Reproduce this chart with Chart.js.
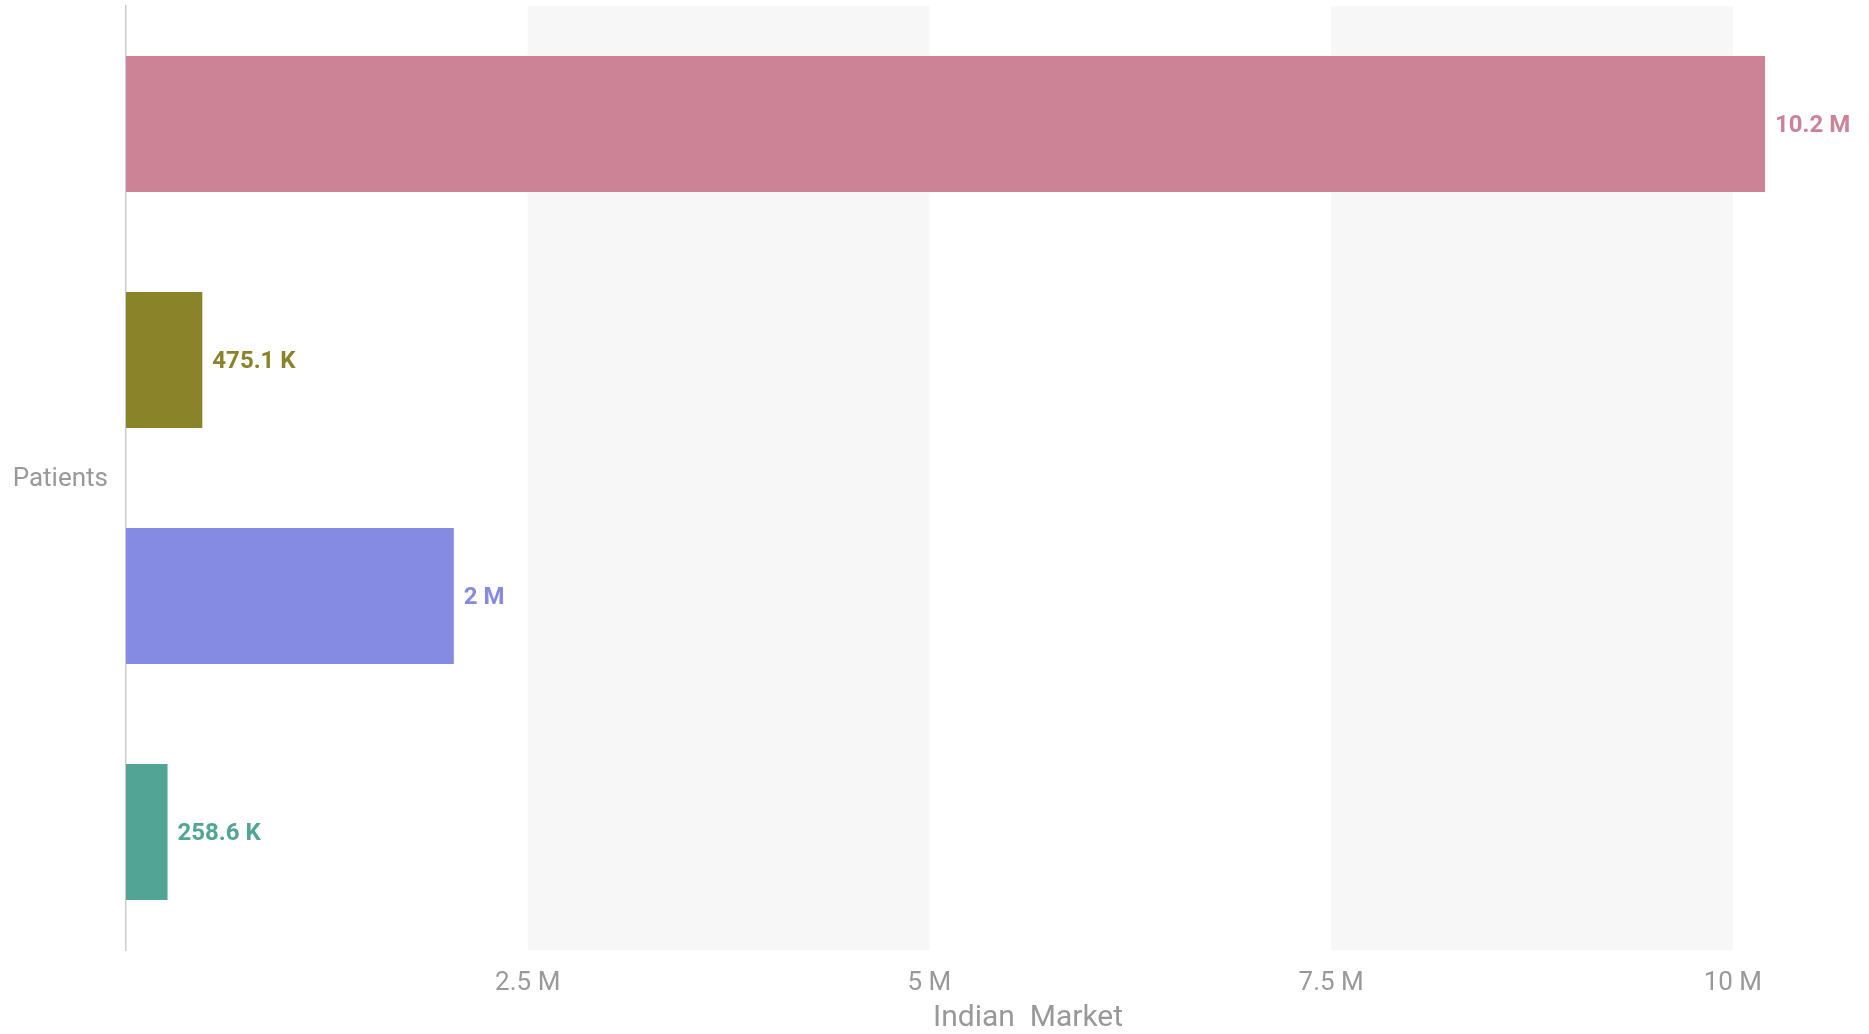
<!DOCTYPE html>
<html>
<head>
<meta charset="utf-8">
<script src="https://cdn.jsdelivr.net/npm/chart.js@4.4.1/dist/chart.umd.min.js"></script>
<style>
    html, body { margin: 0; padding: 0; background: #fff; }
    #wrap { width: 1869px; height: 1034px; }
</style>
</head>
<body>
<div id="wrap"><canvas id="marketChart" width="1869" height="1034"></canvas></div>
<script>
// chart data
const categories = ['Segment 1', 'Segment 2', 'Segment 3', 'Segment 4'];
const patients = [10200000, 475100, 2040000, 258600];
const barColors = ['#cd8396', '#8b8329', '#858ae3', '#52a595'];
const tickValues = [2500000, 5000000, 7500000, 10000000];
const tickLabels = ['2.5 M', '5 M', '7.5 M', '10 M'];

function formatShort(v) {
    if (v >= 1e6) return (v / 1e6).toFixed(1).replace(/\.0$/, '') + ' M';
    return (v / 1e3).toFixed(1).replace(/\.0$/, '') + ' K';
}

// alternating light bands between ticks
const bandsPlugin = {
    id: 'bands',
    beforeDatasetsDraw(chart) {
        const { ctx, chartArea, scales } = chart;
        const x = scales.x;
        ctx.save();
        ctx.fillStyle = '#f7f7f7';
        const edges = [0].concat(tickValues);
        for (let i = 1; i < edges.length - 1; i += 2) {
            const x0 = x.getPixelForValue(edges[i]);
            const x1 = x.getPixelForValue(edges[i + 1]);
            ctx.fillRect(x0, chartArea.top, x1 - x0, chartArea.bottom - chartArea.top);
        }
        ctx.restore();
    }
};

// value labels right of each bar + the axis titles
const labelsPlugin = {
    id: 'valueLabels',
    afterDatasetsDraw(chart) {
        const { ctx, chartArea } = chart;
        const meta = chart.getDatasetMeta(0);
        ctx.save();
        ctx.font = 'bold 24px Roboto';
        ctx.textAlign = 'left';
        ctx.textBaseline = 'middle';
        meta.data.forEach((bar, i) => {
            ctx.fillStyle = barColors[i];
            ctx.fillText(formatShort(patients[i]), bar.x + 10, bar.y + 2);
        });
        ctx.fillStyle = '#999999';
        ctx.font = '26px Roboto';
        ctx.textAlign = 'right';
        ctx.fillText('Patients', chartArea.left - 18, (chartArea.top + chartArea.bottom) / 2 + 1);
        ctx.font = '30px Roboto';
        ctx.textAlign = 'center';
        ctx.fillText('Indian  Market', 1028, 1018);
        ctx.restore();
    }
};

new Chart(document.getElementById('marketChart'), {
    type: 'bar',
    data: {
        labels: categories,
        datasets: [{
            data: patients,
            backgroundColor: barColors,
            borderWidth: 0,
            barPercentage: 0.72,
            categoryPercentage: 0.8,
        }],
    },
    options: {
        indexAxis: 'y',
        responsive: false,
        animation: false,
        devicePixelRatio: 1,
        layout: { padding: { top: 6, right: 104, left: 0, bottom: 0 } },
        plugins: {
            legend: { display: false },
            tooltip: { enabled: false },
        },
        scales: {
            x: {
                min: 0,
                max: 10200000,
                afterFit: (s) => { s.height = 84; },
                afterBuildTicks: (s) => { s.ticks = tickValues.map((v) => ({ value: v })); },
                grid: { display: false, drawTicks: false },
                border: { display: false },
                ticks: {
                    padding: 18,
                    color: '#999999',
                    font: { family: 'Roboto', size: 26 },
                    callback: (v) => tickLabels[tickValues.indexOf(v)],
                },
            },
            y: {
                afterFit: (s) => { s.width = 126; },
                grid: { display: false, drawTicks: false },
                border: { display: true, color: '#cccccc', width: 1.5 },
                ticks: { display: false },
            },
        },
    },
    plugins: [bandsPlugin, labelsPlugin],
});
</script>
</body>
</html>
